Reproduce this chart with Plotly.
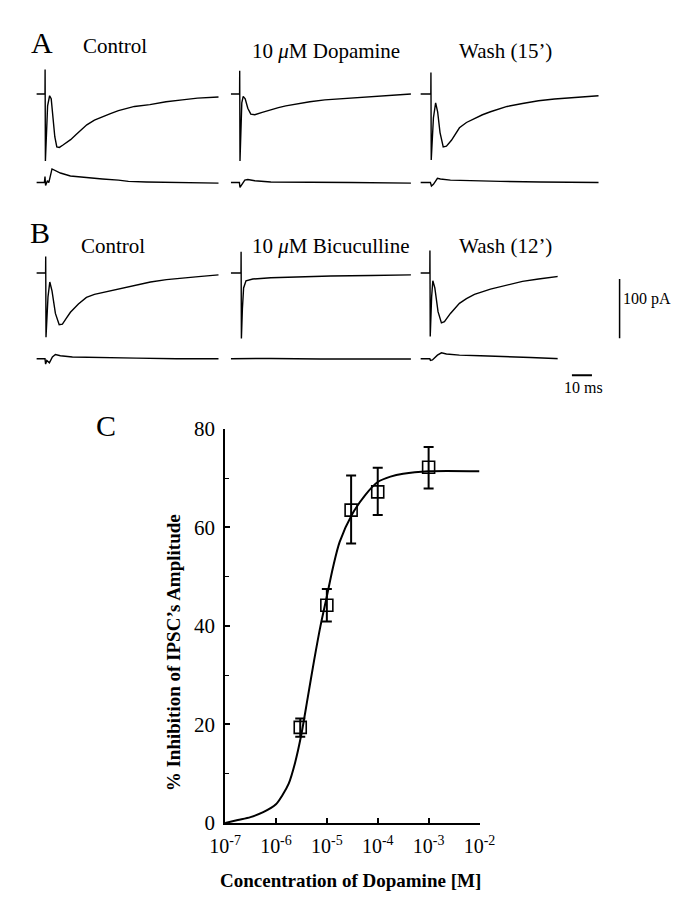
import plotly.graph_objects as go

W, H = 680, 900
PX_PER_MS = 2.1
PX_PER_PA = 0.61
FONT = "Liberation Serif"

# ---------------- Panel A / B traces (time in ms, current in pA) ----------------
a_ctrl_top_t = [0, 4.3, 4.35, 4.5, 5.6, 6.6, 7.4, 8.3, 9.2, 10.2, 11.5, 13.3, 15, 17.1, 20, 22.5, 25.2, 29, 32.9, 37, 41, 45, 49, 56.7, 64.8, 72.9, 80.5, 91]
a_ctrl_top_i = [0, 0, 41, -113, -20, -3, -8, -35, -72, -89, -90, -86, -82, -77, -68, -60, -52, -44, -38, -33, -28, -24, -21, -18, -13, -10, -7, -5]
a_ctrl_bot_t = [0, 4.0, 4.3, 4.6, 5.5, 6.2, 7.8, 9.5, 12, 17, 25, 33, 41, 46, 55, 70, 91]
a_ctrl_bot_i = [0, 0, 10, -5, 3, 0, 23, 20, 16, 11, 8, 6, 4, 2, 1, 0, -1]

a_dopa_top_t = [0, 4.4, 4.45, 4.6, 5.5, 6.2, 7.2, 8.5, 10, 12, 15.7, 19.5, 23.8, 27.5, 31.4, 35.5, 39.5, 47, 55, 62, 74, 82, 90]
a_dopa_top_i = [0, 0, 39, -113, -15, -4, -8, -24, -34, -35, -31, -27, -23, -20, -17.5, -15, -13, -10, -8, -6, -3, -1.5, 0]
a_dopa_bot_t = [0, 4.3, 4.6, 5.5, 7, 8.5, 12, 20, 40, 60, 90]
a_dopa_bot_i = [0, 0, -8, -4, 4, 5, 3, 1, 0, 0, -1]

a_wash_top_t = [0, 5.2, 5.25, 5.4, 6.5, 7.6, 8.6, 9.8, 11.4, 13, 15.5, 19.5, 23, 27, 31, 35, 43.3, 51, 59, 67, 74.8, 82, 89]
a_wash_top_i = [0, 0, 36, -111, -40, -15, -30, -65, -89, -88, -78, -57, -48, -41, -35, -30, -21, -16, -11.5, -8.5, -6.5, -4.5, -3]
a_wash_bot_t = [0, 5.0, 5.5, 6.5, 8.5, 10, 15, 25, 40, 60, 89]
a_wash_bot_i = [0, 0, -6, -3, 7, 6, 4, 3, 2, 1, 0]

b_ctrl_top_t = [0, 4.6, 4.65, 4.8, 5.8, 6.7, 7.8, 9.5, 11.4, 13, 15, 17, 21, 25, 29, 33, 41, 49, 57, 65, 73, 81, 91]
b_ctrl_top_i = [0, 0, 28, -108, -40, -15, -30, -68, -87, -86, -76, -66, -52, -41, -36, -33, -27, -21, -15, -11, -8, -6, -3]
b_ctrl_bot_t = [0, 4.3, 4.6, 5.2, 6.5, 8, 9.5, 12, 18, 30, 50, 70, 91]
b_ctrl_bot_i = [0, 0, -9, -3, -7, 3, 7, 5, 3, 2, 1, 0, 0]

b_bicu_top_t = [0, 5.1, 5.15, 5.3, 5.8, 6.4, 7.6, 11, 20, 35, 50, 70, 90]
b_bicu_top_i = [0, 0, 36, -110, -60, -25, -13, -10, -8, -6, -5, -4, -3]
b_bicu_bot_t = [0, 20, 45, 70, 90]
b_bicu_bot_i = [0, 0.5, -0.5, 0, -0.5]

b_wash_top_t = [0, 4.7, 4.75, 4.9, 5.6, 6.2, 7.2, 8.8, 10.5, 12, 15, 19.5, 23, 27, 35, 43.3, 51, 59, 67, 74.8, 82, 88.6]
b_wash_top_i = [0, 0, 38, -107, -40, -13, -25, -65, -84, -82, -68, -51, -43, -36, -27, -20, -14, -10, -6, -3, -1.5, 0]
b_wash_bot_t = [0, 4.7, 5.0, 6, 8.5, 10.5, 13, 19.5, 30, 43, 55, 70, 88.6]
b_wash_bot_i = [0, 0, -3, -2, 6, 10, 8, 6, 5, 4, 2, 0, -0.5]

row_a_titles = ["Control", "10 <i>μ</i>M Dopamine", "Wash (15’)"]
row_b_titles = ["Control", "10 <i>μ</i>M Bicuculline", "Wash (12’)"]

SCALE_MS = 10
SCALE_PA = 100

# ---------------- Panel C: dose-response ----------------
conc = [3e-6, 1e-5, 3e-5, 1e-4, 1e-3]
inhib = [19.4, 44.2, 63.5, 67.2, 72.2]
err_plus = [1.8, 3.3, 7.0, 4.9, 4.1]
err_minus = [1.9, 3.3, 6.8, 4.7, 4.3]

fit_conc = [1e-7, 1.78e-7, 3.16e-7, 5.62e-7, 1e-6, 1.33e-6, 1.78e-6, 2.37e-6, 3.16e-6, 4.22e-6,
            5.62e-6, 7.5e-6, 1e-5, 1.33e-5, 1.78e-5, 3.16e-5, 5.62e-5, 1e-4, 1.78e-4, 3.16e-4, 1e-3, 1e-2]
fit_inhib = [0, 0.6, 1.2, 2.2, 3.8, 5.6, 8, 12.2, 18, 25.5, 33, 40, 46, 52, 57, 62.7, 66.5, 69.2, 70.3, 70.9, 71.4, 71.4]

x_tickvals = [1e-7, 1e-6, 1e-5, 1e-4, 1e-3, 1e-2]
x_ticktext = ["10<sup>-7</sup>", "10<sup>-6</sup>", "10<sup>-5</sup>",
              "10<sup>-4</sup>", "10<sup>-3</sup>", "10<sup>-2</sup>"]

# ---------------- Build figure ----------------
fig = go.Figure()
layout = {}


def px_x(p):
    return p / W


def px_y(p):
    return 1 - p / H


T_RANGE = [0, 92]
TOP_RANGE = [-120, 45]
BOT_RANGE = [-15, 30]
PANEL_X0 = [13, 217, 416]
ROW_BASE = {"A": (76, 167), "B": (260, 348)}

panels = [
    ("A", 0, a_ctrl_top_t, a_ctrl_top_i, a_ctrl_bot_t, a_ctrl_bot_i),
    ("A", 1, a_dopa_top_t, a_dopa_top_i, a_dopa_bot_t, a_dopa_bot_i),
    ("A", 2, a_wash_top_t, a_wash_top_i, a_wash_bot_t, a_wash_bot_i),
    ("B", 0, b_ctrl_top_t, b_ctrl_top_i, b_ctrl_bot_t, b_ctrl_bot_i),
    ("B", 1, b_bicu_top_t, b_bicu_top_i, b_bicu_bot_t, b_bicu_bot_i),
    ("B", 2, b_wash_top_t, b_wash_top_i, b_wash_bot_t, b_wash_bot_i),
]


def axname(n, kind):
    return f"{kind}axis" if n == 1 else f"{kind}axis{n}"


def axref(n, kind):
    return kind if n == 1 else f"{kind}{n}"


def add_trace_axis(n, x0, base, yr):
    xd = [px_x(x0), px_x(x0 + (T_RANGE[1] - T_RANGE[0]) * PX_PER_MS)]
    ytop = base - yr[1] * PX_PER_PA
    ybot = base - yr[0] * PX_PER_PA
    yd = [px_y(ybot), px_y(ytop)]
    layout[axname(n, "x")] = dict(domain=xd, range=T_RANGE, visible=False,
                                  anchor=axref(n, "y"), fixedrange=True)
    layout[axname(n, "y")] = dict(domain=yd, range=yr, visible=False,
                                  anchor=axref(n, "x"), fixedrange=True)


n = 1
for row, col, tt, ti, bt, bi in panels:
    top_base, bot_base = ROW_BASE[row]
    add_trace_axis(n, PANEL_X0[col], top_base, TOP_RANGE)
    fig.add_trace(go.Scatter(x=tt, y=ti, mode="lines", line=dict(color="black", width=1.4),
                             xaxis=axref(n, "x"), yaxis=axref(n, "y"), cliponaxis=False,
                             hoverinfo="skip"))
    n += 1
    add_trace_axis(n, PANEL_X0[col], bot_base, BOT_RANGE)
    fig.add_trace(go.Scatter(x=bt, y=bi, mode="lines", line=dict(color="black", width=1.4),
                             xaxis=axref(n, "x"), yaxis=axref(n, "y"), cliponaxis=False,
                             hoverinfo="skip"))
    n += 1

# Scale bar axis (same ms/pA scale as traces)
SB = n
sb_x0, sb_x1, sb_y0, sb_y1 = 560, 640, 250, 380
layout[axname(SB, "x")] = dict(domain=[px_x(sb_x0), px_x(sb_x1)],
                               range=[0, (sb_x1 - sb_x0) / PX_PER_MS], visible=False,
                               anchor=axref(SB, "y"))
layout[axname(SB, "y")] = dict(domain=[px_y(sb_y1), px_y(sb_y0)],
                               range=[0, (sb_y1 - sb_y0) / PX_PER_PA], visible=False,
                               anchor=axref(SB, "x"))
vb_x = (625 - sb_x0) / PX_PER_MS
vb_y0 = (sb_y1 - 327) / PX_PER_PA
hb_x0 = (575 - sb_x0) / PX_PER_MS
hb_y = (sb_y1 - 365) / PX_PER_PA
fig.add_trace(go.Scatter(x=[vb_x, vb_x], y=[vb_y0, vb_y0 + SCALE_PA], mode="lines",
                         line=dict(color="black", width=1.5),
                         xaxis=axref(SB, "x"), yaxis=axref(SB, "y"), cliponaxis=False))
fig.add_trace(go.Scatter(x=[hb_x0, hb_x0 + SCALE_MS], y=[hb_y, hb_y], mode="lines",
                         line=dict(color="black", width=1.8),
                         xaxis=axref(SB, "x"), yaxis=axref(SB, "y"), cliponaxis=False))
n += 1

# Panel C axis
C = n
layout[axname(C, "x")] = dict(
    type="log", range=[-7, -2], domain=[px_x(211), px_x(478)], anchor=axref(C, "y"),
    showline=True, linecolor="black", linewidth=1.8, ticks="inside", ticklen=5,
    tickwidth=1.5, tickcolor="black", tickvals=x_tickvals, ticktext=x_ticktext,
    tickfont=dict(family=FONT, size=20, color="black"), showgrid=False, zeroline=False,
    ticklabelstandoff=4)
layout[axname(C, "y")] = dict(
    range=[0, 80], domain=[px_y(825), px_y(420)], anchor=axref(C, "x"),
    showline=True, linecolor="black", linewidth=1.8, ticks="inside", ticklen=5,
    tickwidth=1.5, tickcolor="black", dtick=20, tick0=0,
    minor=dict(dtick=10, ticks="inside", ticklen=4, tickwidth=1.2, tickcolor="black"),
    tickfont=dict(family=FONT, size=21, color="black"), showgrid=False, zeroline=False,
    ticklabelstandoff=4)

fig.add_trace(go.Scatter(x=fit_conc, y=fit_inhib, mode="lines",
                         line=dict(color="black", width=2, shape="spline", smoothing=0.8),
                         xaxis=axref(C, "x"), yaxis=axref(C, "y"), cliponaxis=False))
fig.add_trace(go.Scatter(x=conc, y=inhib, mode="markers",
                         marker=dict(symbol="square-open", size=12, color="black",
                                     line=dict(width=1.6, color="black")),
                         error_y=dict(type="data", array=err_plus, arrayminus=err_minus,
                                      color="black", thickness=2, width=5),
                         xaxis=axref(C, "x"), yaxis=axref(C, "y"), cliponaxis=False))

# ---------------- Text ----------------
ann = []


def text(s, x, y, size, xanchor="center", bold=False, angle=0):
    ann.append(dict(text=f"<b>{s}</b>" if bold else s, x=px_x(x), y=px_y(y),
                    xref="paper", yref="paper", showarrow=False, xanchor=xanchor,
                    yanchor="middle", textangle=angle,
                    font=dict(family=FONT, size=size, color="black")))


text("A", 19, 23, 30)
text("B", 17, 218, 30)
text("C", 86, 417, 30)

text(row_a_titles[0], 96, 27, 21)
text(row_a_titles[1], 317, 32, 21)
text(row_a_titles[2], 505, 32, 21)
text(row_b_titles[0], 93, 232, 21)
text(row_b_titles[1], 322, 232, 21)
text(row_b_titles[2], 505, 232, 21)

text(f"{SCALE_PA} pA", 627, 287, 16, xanchor="left")
text(f"{SCALE_MS} ms", 587, 378, 16)

text("Concentration of Dopamine [M]", 343, 884, 19, bold=True)
text("% Inhibition of IPSC’s Amplitude", 157, 650, 19, bold=True, angle=-90)

fig.update_layout(
    width=W, height=H, margin=dict(l=0, r=0, t=0, b=0),
    paper_bgcolor="white", plot_bgcolor="white", showlegend=False,
    annotations=ann, **layout)

fig.write_html("out.html")
